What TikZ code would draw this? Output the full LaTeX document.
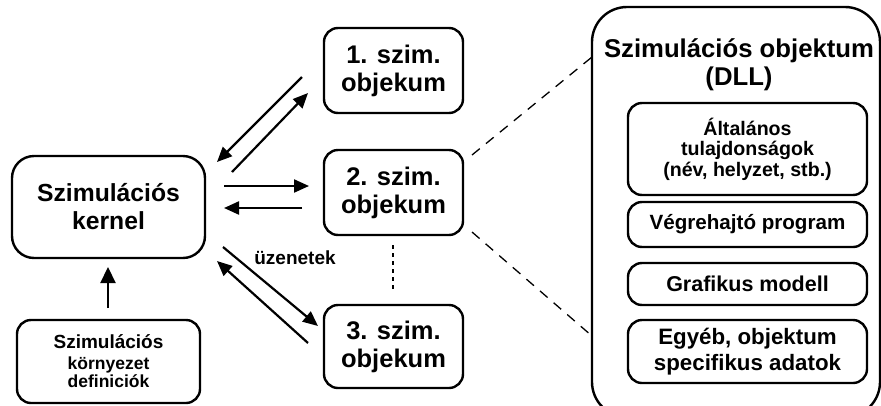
\documentclass[tikz,border=0pt]{standalone}
\usepackage{fontspec}
\setmainfont{Liberation Sans}
\usetikzlibrary{arrows.meta}
\begin{document}
\begin{tikzpicture}[x=1pt,y=-1pt,
  box/.style={draw,line width=2.4pt,rounded corners=14pt,align=center,inner sep=0pt,font=\bfseries},
  bigtxt/.style={font=\fontsize{24.7}{28}\selectfont\bfseries},
  objtxt/.style={font=\fontsize{25.5}{28}\selectfont\bfseries},
  conn/.style={line width=2.2pt,-{Triangle[length=15pt,width=13pt]}},
  dash line/.style={line width=1.3pt,dash pattern=on 10pt off 8pt}]
\clip (0,0) rectangle (881,405);
\useasboundingbox (0,0) rectangle (881,405);
% left side
\node[box,rounded corners=22pt,minimum width=193pt,minimum height=102pt,bigtxt] (kernel) at (108.5,207) {Szimulációs\\kernel};
\node[box,minimum width=183pt,minimum height=83pt,font=\fontsize{17.5}{18}\selectfont\bfseries] (env) at (108.5,361.5)
  {{\fontsize{19}{21}\selectfont Szimulációs}\\[3pt]környezet\\definiciók};
% objects
\node[box,minimum width=139pt,minimum height=85pt,objtxt] (o1) at (393.5,70.5) {1. szim.\\objekum};
\node[box,minimum width=139pt,minimum height=85pt,objtxt] (o2) at (393.5,192.5) {2. szim.\\objekum};
\node[box,minimum width=139pt,minimum height=83pt,objtxt] (o3) at (393.5,346.5) {3. szim.\\objekum};
% big DLL box
\node[draw,line width=2.4pt,rounded corners=35pt,minimum width=288pt,minimum height=410pt,inner sep=0pt] (dll) at (736,212) {};
\node[align=center,font=\fontsize{25.7}{28}\selectfont\bfseries] (title) at (739,65) {Szimulációs objektum\\(DLL)};
\node[box,minimum width=239pt,minimum height=92pt,font=\fontsize{19.6}{20.5}\selectfont\bfseries] (ia) at (747.5,149) {Általános\\tulajdonságok\\(név, helyzet, stb.)};
\node[box,minimum width=239pt,minimum height=45pt,font=\fontsize{20.6}{24}\selectfont\bfseries] (ib) at (747.5,224.5) {Végrehajtó program};
\node[box,minimum width=239pt,minimum height=42pt,font=\fontsize{21.5}{24}\selectfont\bfseries] (ic) at (747.5,284) {Grafikus modell};
\node[box,minimum width=239pt,minimum height=63pt,font=\fontsize{22.3}{26}\selectfont\bfseries] (id) at (747.5,351.5) {Egyéb, objektum\\specifikus adatok};
% connector end points
\coordinate (a1s) at (302,77);  \coordinate (a1e) at (217,162);
\coordinate (a2s) at (232,172); \coordinate (a2e) at (308,93);
\coordinate (a3s) at (224,186); \coordinate (a3e) at (309,186);
\coordinate (a4s) at (302,208); \coordinate (a4e) at (224,208);
\coordinate (a5s) at (223,247); \coordinate (a5e) at (318,326);
\coordinate (a6s) at (308,343); \coordinate (a6e) at (217,261);
\coordinate (ups) at (108,308); \coordinate (upe) at (108,267);
\draw[conn] (a1s) -- (a1e);
\draw[conn] (a2s) -- (a2e);
\draw[conn] (a3s) -- (a3e);
\draw[conn] (a4s) -- (a4e);
\draw[conn] (a5s) -- (a5e);
\draw[conn] (a6s) -- (a6e);
\draw[line width=2.2pt,-{Triangle[length=16pt,width=15pt]}] (ups) -- (upe);
\node[font=\fontsize{19}{20}\selectfont\bfseries] (msg) at (295,258) {üzenetek};
% dotted
\coordinate (d1) at (393,245); \coordinate (d2) at (393,289);
\draw[line width=2.4pt,dash pattern=on 4pt off 4pt] (d1) -- (d2);
% dashed zoom lines
\coordinate (z1) at (472,155); \coordinate (z1e) at (592,57);
\coordinate (z2) at (472,232); \coordinate (z2e) at (592,336);
\draw[dash line] (z1) -- (z1e);
\draw[dash line] (z2) -- (z2e);
\end{tikzpicture}
\end{document}
